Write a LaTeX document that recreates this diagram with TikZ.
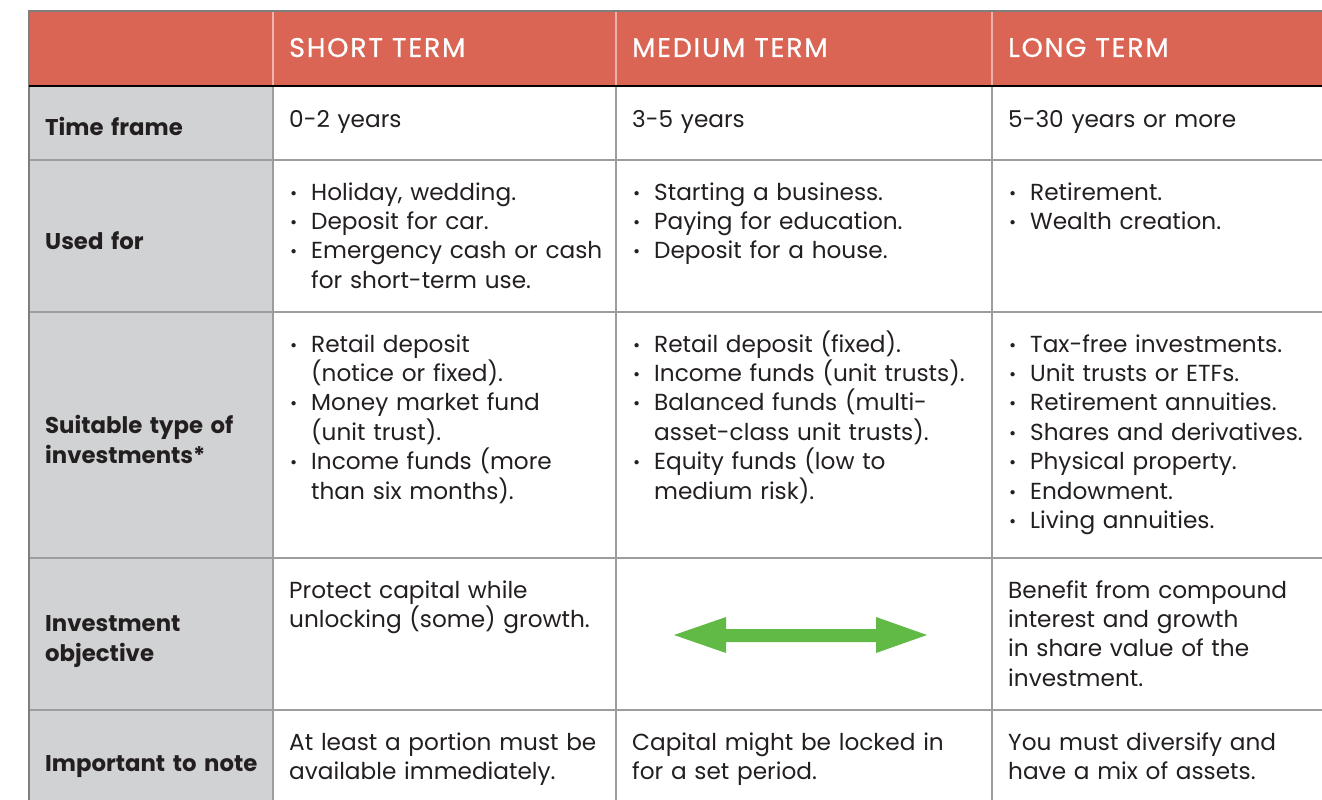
\documentclass[tikz,border=0pt]{standalone}
\usepackage{fontspec}
\setmainfont{Poppins}
\newfontfamily\hdrfont{Poppins}[LetterSpace=6.5,FakeBold=0.6]
\definecolor{hdrred}{HTML}{DA6555}
\definecolor{lblgray}{HTML}{D1D2D4}
\definecolor{rulegray}{HTML}{9D9D9D}
\definecolor{sepred}{HTML}{EEB3AA}
\definecolor{ink}{HTML}{231F20}
\definecolor{arrowgreen}{HTML}{62BA46}
\newcommand\bodyfs{\fontsize{23.2}{29.4}\selectfont}
\newcommand\lblfs{\fontsize{22.8}{30}\selectfont\bfseries}
\newcommand\hdrfs{\hdrfont\fontsize{27}{29}\selectfont}
\newcommand\bdot{\makebox[22pt][l]{\hspace{1pt}\raisebox{1pt}{\scalebox{0.75}{•}}}}
\newcommand\bfirst{\hangindent=22pt\hangafter=1\bdot}
\newcommand\bnext{\par\noindent\hangindent=22pt\hangafter=1\bdot}
\newcommand\bend{\par}
\newcommand\nl{\hfil\break}
\begin{document}
\begin{tikzpicture}[x=1pt,y=-1pt,
  cell/.style={anchor=base west,inner sep=0pt,text width=420pt,align=left,font=\bodyfs,text=ink},
  lbl/.style={anchor=base west,inner sep=0pt,text width=230pt,align=left,font=\lblfs,text=ink},
  hdr/.style={anchor=base west,inner sep=0pt,font=\hdrfs,text=white},
  rule/.style={draw=rulegray,line width=1.3pt}]
\useasboundingbox (0,0) rectangle (1322,800);
\fill[white] (0,0) rectangle (1322,800);
% fills
\fill[hdrred] (29,11) rectangle (1322,86);
\fill[lblgray] (29,86) rectangle (273,800);
% header separators
\foreach \xx in {273,616,992} \draw[sepred,line width=1.2pt] (\xx,11) -- (\xx,86);
% grid
\foreach \yy in {160,312,558,710} \draw[rule] (29,\yy) -- (1322,\yy);
\foreach \xx in {273,616,992} \draw[rule] (\xx,86) -- (\xx,800);
\draw[rulegray!80!black,line width=1.4pt] (29,800) -- (29,11) -- (1322,11);
\draw[black,line width=1.3pt] (29,86) -- (1322,86);
% header
\node[hdr] (h1) at (289,57) {SHORT TERM};
\node[hdr] (h2) at (632,57) {MEDIUM TERM};
\node[hdr] (h3) at (1008,57) {LONG TERM};
% labels
\node[lbl] (l1) at (45,135) {Time frame};
\node[lbl] (l2) at (45,249) {Used for};
\node[lbl] (l3) at (45,433) {Suitable type of\\investments*};
\node[lbl] (l4) at (45,631) {Investment\\objective};
\node[lbl] (l5) at (45,771) {Important to note};
% row 1
\node[cell] (c11) at (289,127) {0-2 years};
\node[cell] (c12) at (632,127) {3-5 years};
\node[cell] (c13) at (1008,127) {5-30 years or more};
% row 2
\node[cell] (c21) at (289,200) {\bfirst Holiday, wedding.\bnext Deposit for car.\bnext Emergency cash or cash\nl for short-term use.\bend};
\node[cell] (c22) at (632,200) {\bfirst Starting a business.\bnext Paying for education.\bnext Deposit for a house.\bend};
\node[cell] (c23) at (1008,200) {\bfirst Retirement.\bnext Wealth creation.\bend};
% row 3
\node[cell] (c31) at (289,352) {\bfirst Retail deposit\nl (notice or fixed).\bnext Money market fund\nl (unit trust).\bnext Income funds (more\nl than six months).\bend};
\node[cell] (c32) at (632,352) {\bfirst Retail deposit (fixed).\bnext Income funds (unit trusts).\bnext Balanced funds (multi-\nl asset-class unit trusts).\bnext Equity funds (low to\nl medium risk).\bend};
\node[cell] (c33) at (1008,352) {\bfirst Tax-free investments.\bnext Unit trusts or ETFs.\bnext Retirement annuities.\bnext Shares and derivatives.\bnext Physical property.\bnext Endowment.\bnext Living annuities.\bend};
% row 4
\node[cell] (c41) at (289,598) {Protect capital while\\unlocking (some) growth.};
\node[cell] (c43) at (1008,598) {Benefit from compound\\interest and growth\\in share value of the\\investment.};
% arrow
\coordinate (aL) at (674,635);
\coordinate (aR) at (927,635);
\fill[arrowgreen] (aL) -- (726,617) -- (726,629) -- (876,629) -- (876,617) -- (aR) -- (876,653) -- (876,642) -- (726,642) -- (726,653) -- cycle;
% row 5
\node[cell] (c51) at (289,750) {At least a portion must be\\available immediately.};
\node[cell] (c52) at (632,750) {Capital might be locked in\\for a set period.};
\node[cell] (c53) at (1008,750) {You must diversify and\\have a mix of assets.};
\end{tikzpicture}
\end{document}
